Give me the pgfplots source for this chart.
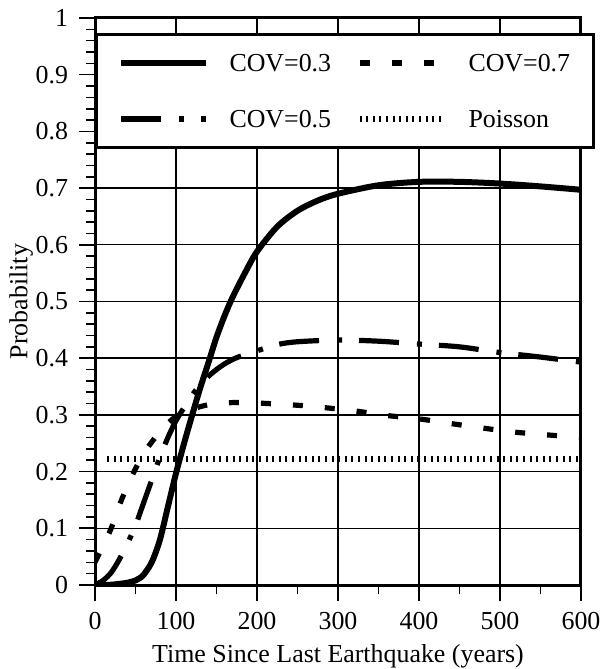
\documentclass[border=0pt]{standalone}
\usepackage{pgfplots}
\pgfplotsset{compat=1.18}
\usepackage{fontspec}
\setmainfont{Liberation Serif}

\newcommand{\chartfont}{\fontsize{13}{15}\selectfont}

\begin{document}
\begin{tikzpicture}
\useasboundingbox (-47.5bp,-42bp) rectangle (252.5bp,292.5bp);
\begin{axis}[
  at={(0,0)}, anchor=south west,
  scale only axis, width=243bp, height=283.5bp,
  xmin=0, xmax=600, ymin=0, ymax=1,
  xtick={0,100,200,300,400,500,600},
  ytick={0,0.1,0.2,0.3,0.4,0.5,0.6,0.7,0.8,0.9,1},
  minor x tick num=1, minor y tick num=4,
  tick pos=left, tick align=outside,
  major tick length=8bp, minor tick length=4.5bp,
  every tick/.style={black, line width=0.8bp},
  grid=major, major grid style={black, line width=0.7bp},
  axis line style={line width=1.5bp},
  /pgf/number format/assume math mode=true,
  ticklabel style={font=\chartfont},
  xticklabel style={yshift=-2.25bp},
  yticklabel style={xshift=-2bp},
  label style={font=\chartfont},
  xlabel={Time Since Last Earthquake (years)},
  ylabel={Probability},
  x label style={at={(axis description cs:0.5,-0.125)}, anchor=center},
  y label style={at={(axis description cs:-0.152,0.5)}, anchor=center, rotate=0},
  legend columns=2,
  legend image code/.code={\draw[#1] (0bp,0bp) -- (42.5bp,0bp);},
  legend style={
    at={(axis description cs:0,0.9735)}, anchor=north west,
    draw=black, line width=1.5bp, fill=white,
    inner xsep=10.5bp, inner ysep=10bp,
    column sep=10.5bp, row sep=19.5bp,
    /tikz/every even column/.append style={column sep=11.5bp},
    cells={anchor=west},
    nodes={inner sep=0pt, text height=8.5bp, text depth=0pt,
           text width=52bp, align=left, font=\chartfont},
  },
]
% COV = 0.3
\addplot[black, line width=3bp, smooth] coordinates {
  (0,0) (10,0) (20,0.0005) (30,0.002) (40,0.004) (50,0.008) (55,0.012)
  (60,0.018) (70,0.04) (80,0.079) (90,0.138) (100,0.197) (110,0.25)
  (120,0.3) (130,0.348) (140,0.392) (150,0.437) (160,0.475) (170,0.508)
  (185,0.55) (200,0.588) (225,0.632) (250,0.66) (275,0.678) (300,0.69)
  (350,0.705) (400,0.711) (450,0.711) (500,0.708) (550,0.703) (600,0.697)
};
\addlegendentry{COV=0.3}
% COV = 0.7
\addplot[black, line width=2.6bp, dash pattern=on 5bp off 11bp, smooth] coordinates {
  (0,0.04) (10,0.07) (20,0.1) (30,0.14) (40,0.175) (50,0.205) (60,0.232)
  (70,0.252) (80,0.27) (90,0.285) (100,0.297) (120,0.31) (140,0.318)
  (160,0.321) (180,0.322) (200,0.321) (250,0.317) (282,0.313) (321,0.307)
  (360,0.299) (400,0.293) (438,0.285) (478,0.277) (515,0.27) (556,0.265)
  (600,0.26)
};
\addlegendentry{COV=0.7}
% COV = 0.5
\addplot[black, line width=2.6bp, dash pattern=on 20bp off 9bp on 2.5bp off 8.5bp, smooth] coordinates {
  (0,0) (10,0.008) (20,0.022) (30,0.045) (40,0.073) (50,0.105) (60,0.145)
  (70,0.185) (80,0.225) (90,0.26) (100,0.29) (110,0.313) (120,0.335)
  (130,0.353) (140,0.368) (150,0.38) (160,0.39) (175,0.401) (200,0.413)
  (225,0.424) (250,0.429) (300,0.432) (350,0.43) (400,0.425) (450,0.42)
  (500,0.41) (550,0.402) (600,0.393)
};
\addlegendentry{COV=0.5}
% Poisson
\addplot[black, line width=3bp, dash pattern=on 1bp off 2.3bp] coordinates {
  (15,0.222) (600,0.222)
};
\addlegendentry{Poisson}
\end{axis}
\end{tikzpicture}
\end{document}
